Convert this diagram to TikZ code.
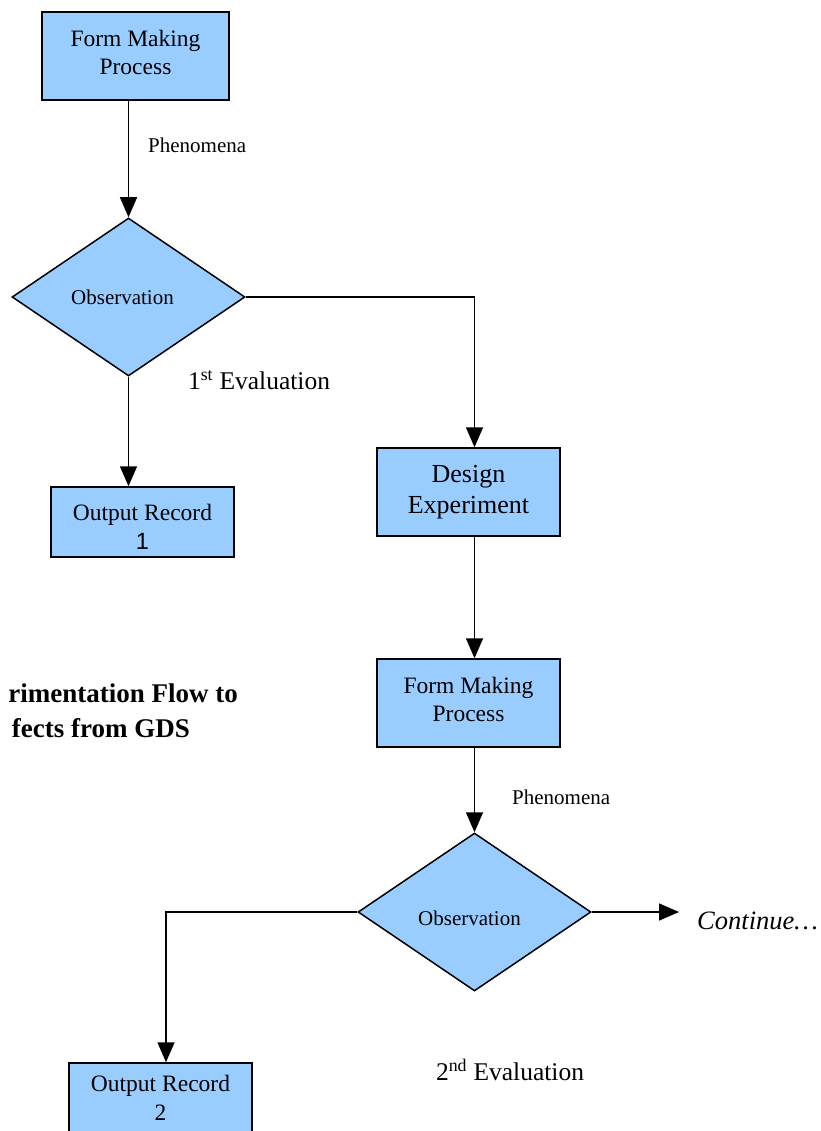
\documentclass[tikz,border=0pt]{standalone}
\usepackage{fontspec}
\setmainfont{Liberation Serif}
\newfontfamily\arialfont{Liberation Sans}
\usepackage{xcolor}
\usepackage{tikz}
\usetikzlibrary{arrows.meta, shapes.geometric, positioning}
\definecolor{Sky}  {HTML}{99CCFF}
\definecolor{Ink}  {HTML}{000000}

\begin{document}
\begin{tikzpicture}[x=1pt, y=-1pt,
    procbox/.style={draw=Ink, line width=1.5pt, fill=Sky, align=center,
                    minimum width=183pt, minimum height=88pt, inner sep=0pt,
                    font=\fontsize{23.5}{28}\selectfont},
    recbox/.style={procbox, minimum height=70pt, font=\fontsize{23.5}{29}\selectfont},
    check/.style={draw=Ink, line width=1.5pt, fill=Sky, diamond, inner sep=0pt,
                  minimum width=233pt, minimum height=158pt,
                  font=\fontsize{21}{25}\selectfont},
    flow/.style={Ink, line width=1.6pt, -{Triangle[length=20pt, width=17pt]}},
    note/.style={font=\fontsize{21}{25}\selectfont},
    evnote/.style={font=\fontsize{25.5}{30}\selectfont}]
  \useasboundingbox (0,0) rectangle (820,1131);
  \fill[white] (0,0) rectangle (820,1131);
  % Upper branch
  \node[procbox, minimum width=187pt] (form1) at (135.5,56) {Form Making\\Process\\[-20pt]\mbox{}};
  \node[check] (obs1) at (128.5,297) {Observation\hspace*{12pt}};
  \node[recbox] (rec1) at (142.5,522) {\mbox{}\\[-4pt]Output Record\\{\arialfont 1}};
  \node[procbox, font=\fontsize{26}{31}\selectfont] (design) at (468.5,492) {Design\\Experiment};
  % Lower branch
  \node[procbox] (form2) at (468.5,703) {Form Making\\Process\\[-20pt]\mbox{}};
  \node[check, text height=27pt] (obs2) at (474.5,912) {Observation\hspace*{10pt}};
  \node[recbox] (rec2) at (160.5,1098) {Output Record\\2};
  \coordinate (contpt) at (679,912);
  \node[right=18pt of contpt, yshift=-9pt, inner sep=0pt,
        font=\fontsize{26.5}{30}\selectfont\itshape] (cont) {Continue…};
  % Labels
  \node[note, anchor=west, inner sep=0pt] (phen1) at (148,145) {Phenomena};
  \node[note, anchor=west, inner sep=0pt] (phen2) at (512,797) {Phenomena};
  \node[evnote, inner sep=0pt] (eval1) at (259,380) {1\textsuperscript{st} Evaluation};
  \node[evnote, inner sep=0pt] (eval2) at (510,1070) {2\textsuperscript{nd} Evaluation};
  \node[anchor=east, inner sep=0pt, align=right, font=\fontsize{27}{35}\bfseries] (title) at (238,711)
       {rimentation Flow to\\fects from GDS\hspace*{48pt}};
  % Connectors
  \draw[flow] (form1.south -| obs1) -- (obs1.north);
  \draw[flow] (obs1.south) -- (obs1.south |- rec1.north);
  \draw[flow] (obs1.east) -| (obs2.north |- design.north);
  \draw[flow] (design.south -| obs2) -- (form2.north -| obs2);
  \draw[flow] (form2.south -| obs2) -- (obs2.north);
  \draw[flow] (obs2.east) -- (contpt);
  \draw[flow] (obs2.west) -| ([xshift=5.5pt]rec2.north);
\end{tikzpicture}
\end{document}
